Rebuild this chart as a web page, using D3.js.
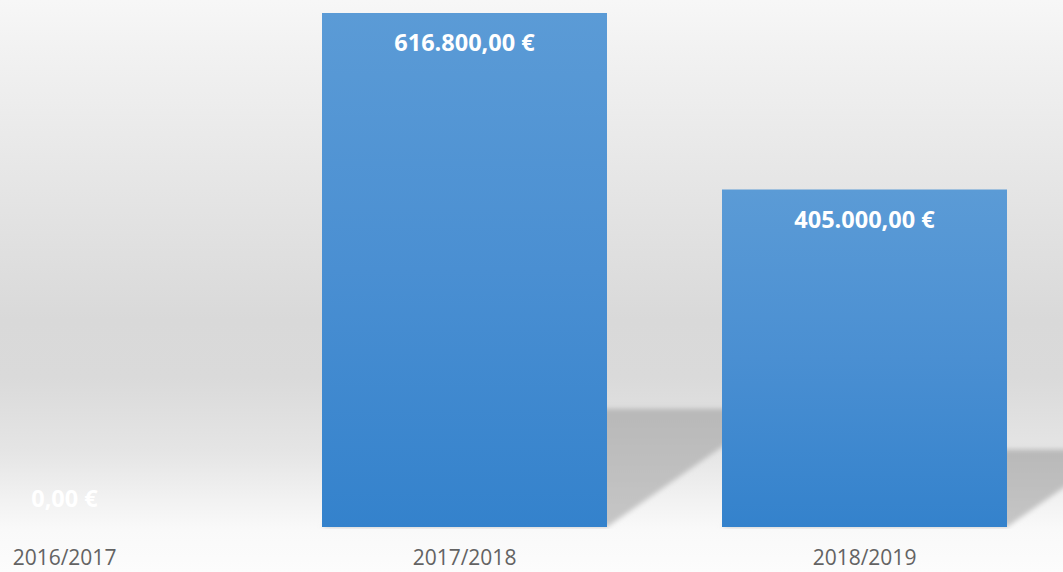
<!DOCTYPE html>
<html>
<head>
<meta charset="utf-8">
<script src="https://cdn.jsdelivr.net/npm/d3@7"></script>
<style>
html,body{margin:0;padding:0;background:#fcfcfc;}
svg{display:block;}
</style>
</head>
<body>
<svg id="chart" width="1063" height="572"></svg>
<script>
const categories = ["2016/2017", "2017/2018", "2018/2019"];
const values = [0, 616800, 405000];
const valueLabels = ["0,00 €", "616.800,00 €", "405.000,00 €"];

const W = 1063, H = 572;
const svg = d3.select("#chart");
const defs = svg.append("defs");

// background gradient
const bg = defs.append("linearGradient").attr("id","bg").attr("x1",0).attr("y1",0).attr("x2",0).attr("y2",1);
[[0,"#f7f7f7"],[0.1,"#f1f1f1"],[0.35,"#e4e4e4"],[0.56,"#d9d9d9"],[0.66,"#dadada"],[0.79,"#e5e5e5"],[0.875,"#f2f2f2"],[0.925,"#f9f9f9"],[1,"#fcfcfc"]]
  .forEach(([o,c])=>bg.append("stop").attr("offset",o).attr("stop-color",c));

const barG = defs.append("linearGradient").attr("id","barg").attr("x1",0).attr("y1",0).attr("x2",0).attr("y2",1);
[[0,"#5b9bd6"],[0.5,"#4a8fd2"],[1,"#3482cc"]].forEach(([o,c])=>barG.append("stop").attr("offset",o).attr("stop-color",c));

const shG = defs.append("linearGradient").attr("id","shg").attr("x1",0).attr("y1",0).attr("x2",0).attr("y2",1);
[[0,"#b8b8b8"],[1,"#c6c6c6"]].forEach(([o,c])=>shG.append("stop").attr("offset",o).attr("stop-color",c));

const blur = defs.append("filter").attr("id","blur").attr("x","-20%").attr("y","-20%").attr("width","140%").attr("height","140%");
blur.append("feGaussianBlur").attr("stdDeviation",2.5);

defs.append("clipPath").attr("id","plotclip").append("rect").attr("x",0).attr("y",0).attr("width",W).attr("height",529);

svg.append("rect").attr("width",W).attr("height",H).attr("fill","url(#bg)");

const x = d3.scaleBand().domain(categories).range([-135.5, 1064.5]).paddingInner(0.2875).paddingOuter(0.14375);
const y = d3.scaleLinear().domain([0, 616800]).range([527, 13]);

const plot = svg.append("g").attr("clip-path","url(#plotclip)");

// perspective shadows
const data = categories.map((c,i)=>({c, v:values[i], label:valueLabels[i]}));
plot.append("g").selectAll("path").data(data.filter(d=>d.v>0)).join("path")
  .attr("d", d=>{
    const x0 = x(d.c), x1 = x0 + x.bandwidth();
    const yb = y(0), h = y(0) - y(d.v);
    const sh = h*0.23, dx = h*0.33;
    return `M${x0},${yb}L${x1},${yb}L${x1+dx},${yb-sh}L${x0+dx},${yb-sh}Z`;
  })
  .attr("fill","url(#shg)")
  .attr("filter","url(#blur)");

// bars
plot.append("g").selectAll("rect").data(data).join("rect")
  .attr("x", d=>x(d.c))
  .attr("y", d=>y(d.v))
  .attr("width", x.bandwidth())
  .attr("height", d=>y(0)-y(d.v))
  .attr("fill","url(#barg)");

// value labels
svg.append("g").selectAll("text").data(data).join("text")
  .attr("x", d=>x(d.c)+x.bandwidth()/2)
  .attr("y", d=> (y(0)-y(d.v) > 60) ? y(d.v)+38 : y(0)-20)
  .attr("text-anchor","middle")
  .attr("font-family","'Open Sans', sans-serif")
  .attr("font-weight","bold")
  .attr("font-size","23.5px")
  .attr("fill","#ffffff")
  .text(d=>d.label);

// category axis labels
const axis = d3.axisBottom(x).tickSize(0).tickPadding(0);
const ag = svg.append("g").attr("transform","translate(0,527)").call(axis);
ag.select(".domain").remove();
ag.selectAll("text")
  .attr("dy", null)
  .attr("y", 38)
  .attr("font-family","'Open Sans', sans-serif")
  .attr("font-size","21px")
  .attr("fill","#636363");
</script>
</body>
</html>
